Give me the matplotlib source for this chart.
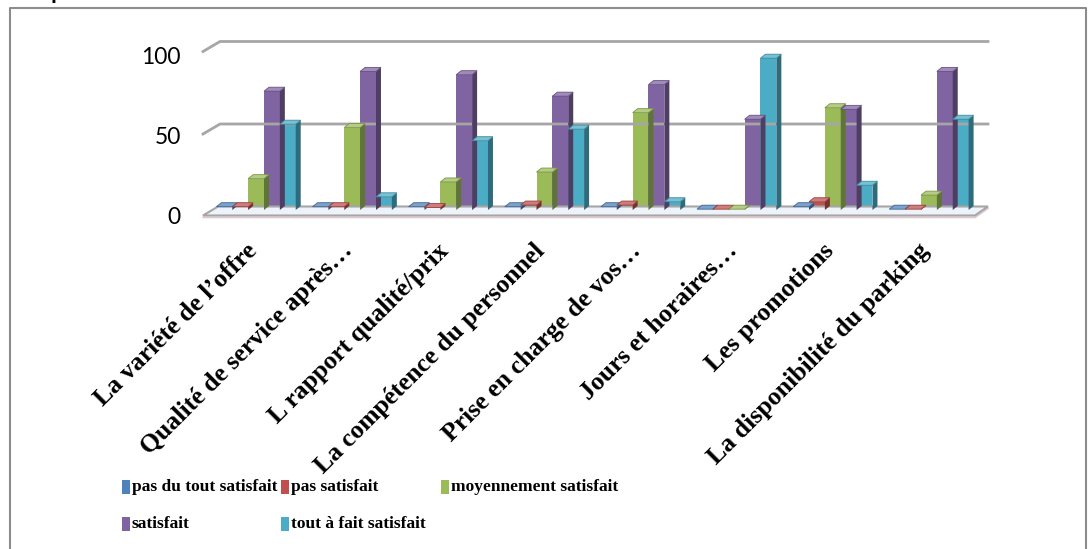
import matplotlib
matplotlib.use('Agg')
import matplotlib.pyplot as plt
import numpy as np
from matplotlib.patches import Polygon, Rectangle
from matplotlib.lines import Line2D
from matplotlib.transforms import IdentityTransform
from matplotlib.colors import to_rgb

W, H = 1090, 549

categories = ["La variété de l’offre", "Qualité de service après…", "L rapport qualité/prix",
              "La compétence du personnel", "Prise en charge de vos…", "Jours et horaires…",
              "Les promotions", "La disponibilité du parking"]
pas_du_tout = [2, 2, 2, 2, 2, 0.5, 2, 0.5]
pas_satisf = [2, 2, 1.5, 3, 3, 0.5, 5, 0.5]
moyen_satisf = [19, 50, 17, 23, 59, 0.5, 62, 9]
satisfait = [72, 84, 82, 69, 76, 55, 61, 84]
tout_a_fait = [52, 8, 42, 49, 5, 92, 15, 55]
series_names = ["pas du tout satisfait", "pas satisfait", "moyennement satisfait",
                "satisfait", "tout à fait satisfait"]
colors = ['#4F81BD', '#C0504D', '#9BBB59', '#8064A2', '#4BACC6']
yticks = [0, 50, 100]

series = [pas_du_tout, pas_satisf, moyen_satisf, satisfait, tout_a_fait]


def shade(c, f):
    r, g, b = to_rgb(c)
    if f < 1:
        return (r * f, g * f, b * f)
    return (r + (1 - r) * (f - 1), g + (1 - g) * (f - 1), b + (1 - b) * (f - 1))


def disp(x, y):
    # pixel position measured from the top-left corner -> display coords
    return (x, H - y)


fig = plt.figure(figsize=(W / 100, H / 100), dpi=100)
ax = fig.add_axes([208 / W, 1 - 210 / H, 769 / W, 165 / H])
ax.set_xlim(-0.5, 7.5)
ax.set_ylim(0, 100)
ax.axis('off')

ident = IdentityTransform()
grid_c = '#a6a6a6'

# back wall gridlines with the little perspective stub on the left
for v in yticks[1:]:
    yd = ax.transData.transform((0, v))[1] + 3.5
    fig.add_artist(Line2D([203, 220, 988], [yd - 10, yd, yd], color=grid_c, lw=2,
                          transform=ident, zorder=1))

# floor slab
yb = ax.transData.transform((0, 0))[1] + 3.5
floor = [(218, yb), (988, yb), (975, yb - 9), (203, yb - 9)]
fig.add_artist(Polygon(floor, closed=True, fc='#eef3f9', ec=grid_c, lw=1.5,
                       transform=ident, zorder=1.5))
fig.add_artist(Line2D([203, 975, 988], [yb - 11, yb - 11, yb - 2], color='#e3c9cf', lw=1.2,
                      transform=ident, zorder=1.4))

# 3D-looking bars
w = 0.165
dx, dy = 5, 4
z = 2
for i in range(len(categories)):
    for k, vals in enumerate(series):
        v = vals[i]
        x0 = i + (k - 2) * w - w / 2
        c = colors[k]
        ax.bar(x0, v, w, align='edge', color=shade(c, 1.0), lw=0, zorder=z, clip_on=False)
        (xa, ya), (xb, yb2) = ax.transData.transform([(x0, 0), (x0 + w, v)])
        side = [(xb, ya), (xb + dx, ya + dy), (xb + dx, yb2 + dy), (xb, yb2)]
        top = [(xa, yb2), (xb, yb2), (xb + dx, yb2 + dy), (xa + dx, yb2 + dy)]
        fig.add_artist(Polygon(side, closed=True, fc=shade(c, 0.62), lw=0,
                               transform=ident, zorder=z + 0.001))
        fig.add_artist(Polygon(top, closed=True, fc=shade(c, 1.25), ec=shade(c, 0.8), lw=0.6,
                               transform=ident, zorder=z + 0.002))
        z += 0.01

# y tick labels
for v in yticks:
    yd = ax.transData.transform((0, v))[1] - 7 - 5 * v / 100
    fig.text(181 / W, yd / H, str(v), ha='right', va='center', fontsize=16.5,
             family='Lato', color='black')

# rotated category labels
for i, lab in enumerate(categories):
    xd = ax.transData.transform((i, 0))[0] - 11
    fig.text(xd / W, (H - 239) / H, lab, rotation=45, rotation_mode='anchor',
             ha='right', va='top', fontsize=18.5, fontweight='bold',
             family='Liberation Serif')

# legend, three columns
leg_x = [122, 281, 441]
leg_y = [487, 524]
for k, name in enumerate(series_names):
    cx = leg_x[k % 3]
    cy = leg_y[k // 3]
    x, y = disp(cx, cy + 7)
    fig.add_artist(Rectangle((x, y), 8, 14, fc=colors[k], ec='none', transform=ident))
    fig.text((cx + 10) / W, (H - cy) / H, name, ha='left', va='center',
             fontsize=12.5, fontweight='bold', family='Liberation Serif')

# title, mostly above the visible area
fig.text(15 / W, (H + 1.5) / H, "Graphe n°4 : la satisfaction des clients", ha='left',
         va='baseline', fontsize=15, fontweight='bold', family='Liberation Sans')

# outer frame
fig.add_artist(Line2D([10, 10, 1086, 1086], [0, H - 8, H - 8, 0], color='#8c8c8c', lw=1.5,
                      transform=ident))

fig.savefig('out.png', dpi=100)
